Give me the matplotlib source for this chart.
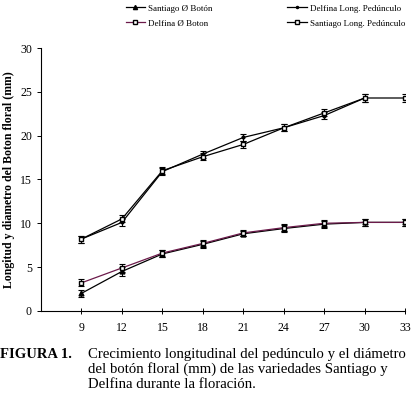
import matplotlib
matplotlib.use('Agg')
import matplotlib.pyplot as plt
from matplotlib.lines import Line2D

plt.rcParams.update({
    'font.family': ['Liberation Serif', 'DejaVu Serif'],
    'font.size': 8,
})

dias = [9, 12, 15, 18, 21, 24, 27, 30, 33]
santiago_boton = [2.0, 4.5, 6.5, 7.6, 8.8, 9.4, 9.9, 10.1, 10.1]
delfina_boton = [3.2, 4.9, 6.6, 7.7, 8.9, 9.5, 10.0, 10.1, 10.1]
delfina_long = [8.2, 10.1, 15.9, 17.9, 19.8, 20.9, 22.3, 24.3]
santiago_long = [8.2, 10.5, 16.0, 17.6, 19.0, 20.9, 22.6, 24.3, 24.3]
err_boton = [0.4, 0.5, 0.4, 0.4, 0.3, 0.4, 0.4, 0.4, 0.4]
err_long = [0.4, 0.4, 0.4, 0.4, 0.4, 0.4, 0.4, 0.4, 0.4]

PURPLE = '#6b1a4a'

fig = plt.figure(figsize=(4.12, 3.94), dpi=100)
ax = fig.add_axes([0.0995, 0.211, 0.884, 0.667])

eb = dict(capsize=2.5, elinewidth=0.8, capthick=0.8, linewidth=0.9)
ax.errorbar(dias, santiago_boton, yerr=err_boton, color='black', marker='^',
            markersize=3.5, **eb)
ax.errorbar(dias, delfina_boton, yerr=err_boton, color=PURPLE, ecolor='black',
            marker='s', markersize=3.5, markerfacecolor='white',
            markeredgecolor='black', **eb)
ax.errorbar(dias[:len(delfina_long)], delfina_long, yerr=err_long[:len(delfina_long)],
            color='black', marker='o', markersize=2, **eb)
ax.errorbar(dias, santiago_long, yerr=err_long, color='black', marker='s',
            markersize=3.5, markerfacecolor='white', **eb)

ax.set_xlim(6, 33)
ax.set_ylim(0, 30)
ax.set_xticks(dias)
ax.set_yticks(range(0, 31, 5))
for s in ['top', 'right']:
    ax.spines[s].set_visible(False)
ax.tick_params(axis='both', labelsize=8.5, length=3, width=0.7)
ax.tick_params(axis='x', direction='inout', length=4, pad=6)
ax.set_ylabel('Longitud y diametro del Boton floral (mm)', fontsize=8.5,
              fontweight='bold', labelpad=4)

handles = [
    Line2D([], [], color='black', marker='^', markersize=3, lw=0.9),
    Line2D([], [], color=PURPLE, marker='s', markersize=3, lw=0.9,
           markerfacecolor='white', markeredgecolor='black'),
    Line2D([], [], color='black', marker='o', markersize=1.5, lw=0.9),
    Line2D([], [], color='black', marker='s', markersize=3, lw=0.9,
           markerfacecolor='white'),
]
labels = ['Santiago Ø Botón', 'Delfina Ø Boton',
          'Delfina Long. Pedúnculo', 'Santiago Long. Pedúnculo']
fig.legend(handles, labels, ncol=2, loc='upper left', bbox_to_anchor=(0.285, 1.01),
           frameon=False, fontsize=6.5, handlelength=2.2, handletextpad=0.3,
           columnspacing=8.3, labelspacing=0.75)

fig.text(0.0, 0.118, 'FIGURA 1.', fontsize=10.5, fontweight='bold', va='top')
fig.text(0.213, 0.118,
         'Crecimiento longitudinal del pedúnculo y el diámetro\n'
         'del botón floral (mm) de las variedades Santiago y\n'
         'Delfina durante la floración.',
         fontsize=10.6, va='top', linespacing=1.15)

fig.savefig('out.png', dpi=100)
